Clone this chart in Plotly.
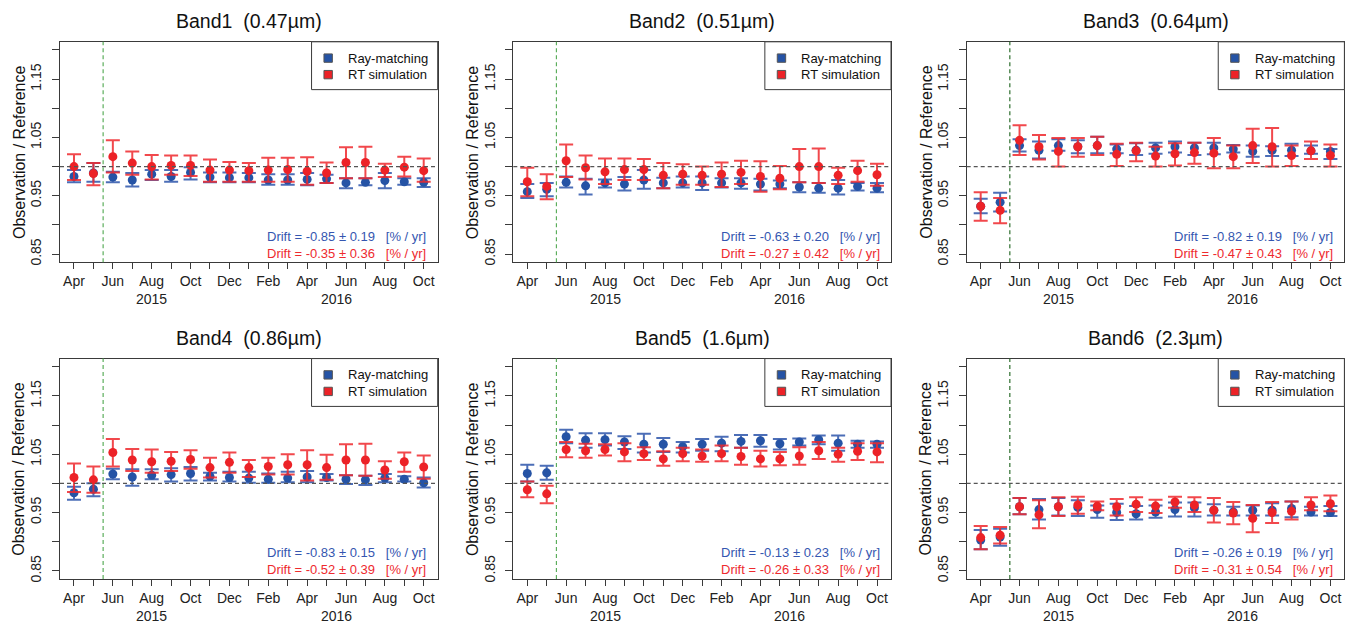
import plotly.graph_objects as go

# ---------------- data ----------------
months = ["Apr", "May", "Jun", "Jul", "Aug", "Sep", "Oct", "Nov", "Dec", "Jan",
          "Feb", "Mar", "Apr", "May", "Jun", "Jul", "Aug", "Sep", "Oct"]
month_idx = list(range(len(months)))
years = ["2015", "2016"]
year_pos = [4, 13.5]
switch_pos = 1.5

band_titles = ["Band1  (0.47\u00b5m)", "Band2  (0.51\u00b5m)", "Band3  (0.64\u00b5m)",
               "Band4  (0.86\u00b5m)", "Band5  (1.6\u00b5m)", "Band6  (2.3\u00b5m)"]
drift_ray = ["-0.85 \u00b1 0.19", "-0.63 \u00b1 0.20", "-0.82 \u00b1 0.19",
             "-0.83 \u00b1 0.15", "-0.13 \u00b1 0.23", "-0.26 \u00b1 0.19"]
drift_rt = ["-0.35 \u00b1 0.36", "-0.27 \u00b1 0.42", "-0.47 \u00b1 0.43",
            "-0.52 \u00b1 0.39", "-0.26 \u00b1 0.33", "-0.31 \u00b1 0.54"]

y_tick_vals = [0.85, 0.90, 0.95, 1.00, 1.05, 1.10, 1.15, 1.20]
y_tick_text = ["0.85", "", "0.95", "", "1.05", "", "1.15", ""]

# Band 1
b1_ray = [0.983, 0.989, 0.982, 0.977, 0.987, 0.983, 0.990, 0.982, 0.981, 0.981, 0.977, 0.977, 0.978, 0.979, 0.972, 0.973, 0.976, 0.974, 0.973]
b1_ray_hi = [0.994, 1.006, 0.991, 0.989, 0.994, 0.994, 0.999, 0.990, 0.990, 0.989, 0.987, 0.987, 0.989, 0.986, 0.980, 0.980, 0.989, 0.980, 0.980]
b1_ray_lo = [0.973, 0.974, 0.973, 0.966, 0.977, 0.974, 0.978, 0.973, 0.973, 0.973, 0.969, 0.969, 0.968, 0.972, 0.963, 0.968, 0.963, 0.969, 0.965]
b1_rt = [1.000, 0.988, 1.017, 1.006, 1.000, 1.002, 1.002, 0.994, 0.994, 0.993, 0.994, 0.995, 0.992, 0.989, 1.007, 1.007, 0.994, 0.999, 0.993]
b1_rt_hi = [1.021, 1.006, 1.045, 1.026, 1.020, 1.019, 1.019, 1.012, 1.008, 1.006, 1.015, 1.015, 1.016, 1.007, 1.033, 1.034, 1.005, 1.017, 1.014]
b1_rt_lo = [0.977, 0.968, 0.990, 0.986, 0.978, 0.986, 0.984, 0.974, 0.974, 0.974, 0.974, 0.974, 0.969, 0.972, 0.980, 0.980, 0.982, 0.983, 0.974]

# Band 2
b2_ray = [0.957, 0.961, 0.973, 0.967, 0.972, 0.970, 0.977, 0.972, 0.972, 0.972, 0.972, 0.972, 0.970, 0.970, 0.965, 0.963, 0.963, 0.966, 0.963]
b2_ray_hi = [0.970, 0.972, 0.983, 0.979, 0.978, 0.982, 0.994, 0.981, 0.983, 0.983, 0.980, 0.980, 0.979, 0.976, 0.973, 0.972, 0.977, 0.972, 0.972]
b2_ray_lo = [0.946, 0.949, 0.964, 0.952, 0.964, 0.959, 0.962, 0.963, 0.964, 0.960, 0.964, 0.962, 0.959, 0.963, 0.956, 0.955, 0.952, 0.959, 0.956]
b2_rt = [0.974, 0.966, 1.010, 0.998, 0.991, 0.995, 0.995, 0.985, 0.987, 0.985, 0.987, 0.990, 0.983, 0.980, 1.000, 1.000, 0.985, 0.993, 0.986]
b2_rt_hi = [0.998, 0.987, 1.038, 1.019, 1.014, 1.014, 1.013, 1.006, 1.004, 1.000, 1.007, 1.010, 1.009, 1.001, 1.030, 1.031, 0.998, 1.010, 1.005]
b2_rt_lo = [0.949, 0.944, 0.982, 0.978, 0.970, 0.977, 0.977, 0.963, 0.969, 0.969, 0.965, 0.970, 0.957, 0.961, 0.973, 0.972, 0.970, 0.974, 0.967]

# Band 3
b3_ray = [0.932, 0.939, 1.036, 1.028, 1.036, 1.034, 1.036, 1.030, 1.028, 1.032, 1.034, 1.032, 1.032, 1.030, 1.026, 1.028, 1.028, 1.027, 1.026]
b3_ray_hi = [0.945, 0.955, 1.047, 1.043, 1.047, 1.045, 1.051, 1.038, 1.040, 1.041, 1.043, 1.041, 1.041, 1.037, 1.036, 1.035, 1.039, 1.036, 1.030]
b3_ray_lo = [0.920, 0.923, 1.026, 1.014, 1.027, 1.023, 1.023, 1.023, 1.020, 1.022, 1.024, 1.020, 1.021, 1.024, 1.017, 1.018, 1.018, 1.022, 1.013]
b3_rt = [0.932, 0.925, 1.045, 1.034, 1.026, 1.034, 1.036, 1.021, 1.027, 1.018, 1.022, 1.024, 1.023, 1.017, 1.036, 1.034, 1.019, 1.027, 1.019]
b3_rt_hi = [0.956, 0.946, 1.071, 1.054, 1.049, 1.049, 1.051, 1.039, 1.041, 1.034, 1.040, 1.041, 1.049, 1.036, 1.065, 1.066, 1.036, 1.043, 1.038]
b3_rt_lo = [0.907, 0.903, 1.020, 1.012, 1.000, 1.017, 1.020, 1.001, 1.009, 1.000, 1.002, 1.005, 0.997, 0.997, 1.006, 1.000, 1.001, 1.013, 1.000]

# Band 4
b4_ray = [0.984, 0.990, 1.016, 1.011, 1.014, 1.015, 1.017, 1.012, 1.010, 1.009, 1.007, 1.009, 1.011, 1.010, 1.007, 1.006, 1.009, 1.007, 1.001]
b4_ray_hi = [0.994, 1.000, 1.025, 1.024, 1.024, 1.026, 1.028, 1.018, 1.020, 1.020, 1.017, 1.020, 1.021, 1.016, 1.014, 1.013, 1.016, 1.012, 1.010]
b4_ray_lo = [0.972, 0.978, 1.007, 0.996, 1.007, 1.003, 1.005, 1.005, 1.003, 1.001, 1.001, 1.002, 1.002, 1.005, 0.999, 0.997, 1.002, 1.003, 0.993]
b4_rt = [1.010, 1.006, 1.053, 1.040, 1.037, 1.038, 1.041, 1.027, 1.036, 1.027, 1.029, 1.032, 1.032, 1.027, 1.040, 1.040, 1.023, 1.037, 1.028]
b4_rt_hi = [1.034, 1.029, 1.076, 1.059, 1.058, 1.054, 1.057, 1.044, 1.053, 1.040, 1.044, 1.050, 1.057, 1.049, 1.067, 1.068, 1.038, 1.053, 1.048]
b4_rt_lo = [0.985, 0.984, 1.029, 1.021, 1.018, 1.021, 1.025, 1.010, 1.018, 1.011, 1.015, 1.015, 1.005, 1.006, 1.014, 1.013, 1.008, 1.020, 1.008]

# Band 5
b5_ray = [1.017, 1.018, 1.080, 1.074, 1.075, 1.071, 1.067, 1.067, 1.063, 1.067, 1.069, 1.072, 1.073, 1.068, 1.071, 1.075, 1.069, 1.067, 1.067]
b5_ray_hi = [1.032, 1.030, 1.092, 1.086, 1.086, 1.081, 1.085, 1.078, 1.071, 1.076, 1.080, 1.083, 1.083, 1.076, 1.077, 1.082, 1.082, 1.073, 1.072]
b5_ray_lo = [1.003, 1.006, 1.069, 1.061, 1.065, 1.059, 1.053, 1.054, 1.053, 1.056, 1.055, 1.061, 1.063, 1.058, 1.065, 1.067, 1.056, 1.061, 1.061]
b5_rt = [0.989, 0.982, 1.058, 1.056, 1.058, 1.054, 1.051, 1.042, 1.051, 1.047, 1.051, 1.046, 1.042, 1.042, 1.047, 1.056, 1.050, 1.055, 1.054]
b5_rt_hi = [1.003, 0.996, 1.071, 1.068, 1.067, 1.069, 1.062, 1.055, 1.061, 1.058, 1.065, 1.061, 1.056, 1.054, 1.062, 1.071, 1.061, 1.069, 1.069]
b5_rt_lo = [0.976, 0.966, 1.045, 1.044, 1.048, 1.038, 1.040, 1.030, 1.038, 1.037, 1.038, 1.032, 1.029, 1.031, 1.032, 1.042, 1.037, 1.040, 1.036]

# Band 6
b6_ray = [0.903, 0.908, 0.960, 0.955, 0.960, 0.959, 0.955, 0.950, 0.948, 0.951, 0.955, 0.958, 0.954, 0.951, 0.954, 0.954, 0.957, 0.951, 0.950]
b6_ray_hi = [0.920, 0.922, 0.975, 0.973, 0.975, 0.971, 0.962, 0.965, 0.961, 0.962, 0.967, 0.967, 0.964, 0.960, 0.962, 0.966, 0.969, 0.960, 0.961]
b6_ray_lo = [0.887, 0.893, 0.947, 0.938, 0.945, 0.944, 0.941, 0.937, 0.938, 0.941, 0.943, 0.943, 0.945, 0.945, 0.945, 0.945, 0.942, 0.945, 0.944]
b6_rt = [0.907, 0.911, 0.960, 0.946, 0.960, 0.963, 0.961, 0.960, 0.964, 0.961, 0.968, 0.963, 0.954, 0.949, 0.940, 0.950, 0.952, 0.963, 0.965]
b6_rt_hi = [0.927, 0.925, 0.975, 0.971, 0.976, 0.977, 0.969, 0.973, 0.976, 0.972, 0.977, 0.976, 0.975, 0.968, 0.963, 0.968, 0.969, 0.976, 0.979]
b6_rt_lo = [0.887, 0.897, 0.947, 0.923, 0.944, 0.948, 0.954, 0.945, 0.951, 0.949, 0.958, 0.951, 0.933, 0.930, 0.916, 0.932, 0.938, 0.954, 0.952]

bands = [
    (b1_ray, b1_ray_hi, b1_ray_lo, b1_rt, b1_rt_hi, b1_rt_lo),
    (b2_ray, b2_ray_hi, b2_ray_lo, b2_rt, b2_rt_hi, b2_rt_lo),
    (b3_ray, b3_ray_hi, b3_ray_lo, b3_rt, b3_rt_hi, b3_rt_lo),
    (b4_ray, b4_ray_hi, b4_ray_lo, b4_rt, b4_rt_hi, b4_rt_lo),
    (b5_ray, b5_ray_hi, b5_ray_lo, b5_rt, b5_rt_hi, b5_rt_lo),
    (b6_ray, b6_ray_hi, b6_ray_lo, b6_rt, b6_rt_hi, b6_rt_lo),
]

# ---------------- style ----------------
FONT = "Liberation Sans, Arial, Helvetica, sans-serif"
BLUE = "#2553a5"
BLUE_ERR = "rgba(45,85,170,0.85)"
RED = "#ec2227"
RED_ERR = "rgba(238,40,45,0.85)"
AX = "#3a3a3a"
GREEN_LIGHT = "#5cae5c"
GREEN_DARK = "#2e6e2e"
green_cols = [GREEN_LIGHT, GREEN_LIGHT, GREEN_DARK, GREEN_LIGHT, GREEN_LIGHT, GREEN_DARK]

W_FIG, H_FIG = 1354, 626
X0 = [60, 513.3, 966.7]
Y0 = [42, 360.3]
PW, PH = 377.7, 221.5

fig = go.Figure()
shapes = []
annotations = []
layout_axes = {}


def err(c, hi, lo):
    return [h - v for h, v in zip(hi, c)], [v - l for v, l in zip(c, lo)]


for k, (ray, ray_hi, ray_lo, rt, rt_hi, rt_lo) in enumerate(bands):
    n = k + 1
    sfx = "" if n == 1 else str(n)
    xa, ya = "x" + sfx, "y" + sfx
    col, row = k % 3, k // 3
    x0 = X0[col] / W_FIG
    x1 = (X0[col] + PW) / W_FIG
    y1 = 1 - Y0[row] / H_FIG
    y0 = 1 - (Y0[row] + PH) / H_FIG

    e_up, e_dn = err(ray, ray_hi, ray_lo)
    fig.add_trace(go.Scatter(
        x=month_idx, y=ray, xaxis=xa, yaxis=ya, mode="markers",
        marker=dict(color=BLUE, size=9, line=dict(width=0)),
        error_y=dict(type="data", symmetric=False, array=e_up, arrayminus=e_dn,
                     color=BLUE_ERR, thickness=2, width=7),
        showlegend=False, name="Ray-matching"))
    e_up, e_dn = err(rt, rt_hi, rt_lo)
    fig.add_trace(go.Scatter(
        x=month_idx, y=rt, xaxis=xa, yaxis=ya, mode="markers",
        marker=dict(color=RED, size=9, line=dict(width=0)),
        error_y=dict(type="data", symmetric=False, array=e_up, arrayminus=e_dn,
                     color=RED_ERR, thickness=2, width=7),
        showlegend=False, name="RT simulation"))

    layout_axes["xaxis" + sfx] = dict(
        domain=[x0, x1], anchor=ya, range=[-0.72, 18.72],
        tickmode="array", tickvals=month_idx,
        ticktext=[m if i % 2 == 0 else "" for i, m in enumerate(months)],
        ticks="outside", ticklen=6, tickcolor=AX, tickwidth=1,
        showline=True, linecolor=AX, linewidth=1, mirror=True,
        showgrid=False, zeroline=False, ticklabelstandoff=0,
        tickfont=dict(family=FONT, size=14, color="#222"))
    layout_axes["yaxis" + sfx] = dict(
        domain=[y0, y1], anchor=xa, range=[0.836, 1.214],
        tickmode="array", tickvals=y_tick_vals, ticktext=y_tick_text,
        tickangle=-90, ticks="outside", ticklen=7, tickcolor=AX, tickwidth=1,
        showline=True, linecolor=AX, linewidth=1, mirror=True,
        showgrid=False, zeroline=False, ticklabelstandoff=5,
        tickfont=dict(family=FONT, size=14, color="#222"))

    # reference lines
    shapes.append(dict(type="line", xref=xa + " domain", yref=ya, x0=0, x1=1, y0=1.0, y1=1.0,
                       line=dict(color="#555", width=1.2, dash="4px,3px")))
    shapes.append(dict(type="line", xref=xa, yref=ya + " domain", x0=switch_pos, x1=switch_pos,
                       y0=0, y1=1, line=dict(color=green_cols[k], width=1.2, dash="4px,3px")))

    # legend box
    shapes.append(dict(type="rect", xref=xa + " domain", yref=ya + " domain",
                       x0=0.666, x1=1.0, y0=0.783, y1=1.0,
                       line=dict(color=AX, width=1), fillcolor="white"))
    for j, (c, lab, yy) in enumerate([(BLUE, "Ray-matching", 0.926), (RED, "RT simulation", 0.851)]):
        sx, sy = 4.2 / PW, 4.2 / PH
        shapes.append(dict(type="rect", xref=xa + " domain", yref=ya + " domain",
                           x0=0.710 - sx, x1=0.710 + sx, y0=yy - sy, y1=yy + sy,
                           line=dict(color="#555", width=1), fillcolor=c))
        annotations.append(dict(text=lab, xref=xa + " domain", yref=ya + " domain",
                                x=0.757, y=yy, xanchor="left", yanchor="middle", showarrow=False,
                                font=dict(family=FONT, size=13, color="#111")))

    # drift texts
    annotations.append(dict(text="Drift = " + drift_ray[k] + "\u00a0\u00a0 [% / yr]",
                            xref=xa + " domain", yref=ya + " domain", x=0.975, y=0.119,
                            xanchor="right", yanchor="middle", showarrow=False,
                            font=dict(family=FONT, size=13, color="#3556b0")))
    annotations.append(dict(text="Drift = " + drift_rt[k] + "\u00a0\u00a0 [% / yr]",
                            xref=xa + " domain", yref=ya + " domain", x=0.975, y=0.041,
                            xanchor="right", yanchor="middle", showarrow=False,
                            font=dict(family=FONT, size=13, color="#ee2a2e")))

    # title
    annotations.append(dict(text=band_titles[k], xref=xa + " domain", yref=ya + " domain",
                            x=0.5, y=1 + 21 / PH, xanchor="center", yanchor="middle",
                            showarrow=False, font=dict(family=FONT, size=19.5, color="#111")))
    # y label
    annotations.append(dict(text="Observation / Reference", xref=xa + " domain", yref=ya + " domain",
                            x=-41 / PW, y=0.5, xanchor="center", yanchor="middle", textangle=-90,
                            showarrow=False, font=dict(family=FONT, size=16, color="#111")))
    # years
    for yr, pos in zip(years, year_pos):
        annotations.append(dict(text=yr, xref=xa, yref=ya + " domain", x=pos, y=-37 / PH,
                                xanchor="center", yanchor="middle", showarrow=False,
                                font=dict(family=FONT, size=14, color="#222")))

fig.update_layout(
    width=W_FIG, height=H_FIG, margin=dict(l=0, r=0, t=0, b=0),
    paper_bgcolor="white", plot_bgcolor="white",
    showlegend=False, shapes=shapes, annotations=annotations,
    **layout_axes)

fig.write_html("out.html")
